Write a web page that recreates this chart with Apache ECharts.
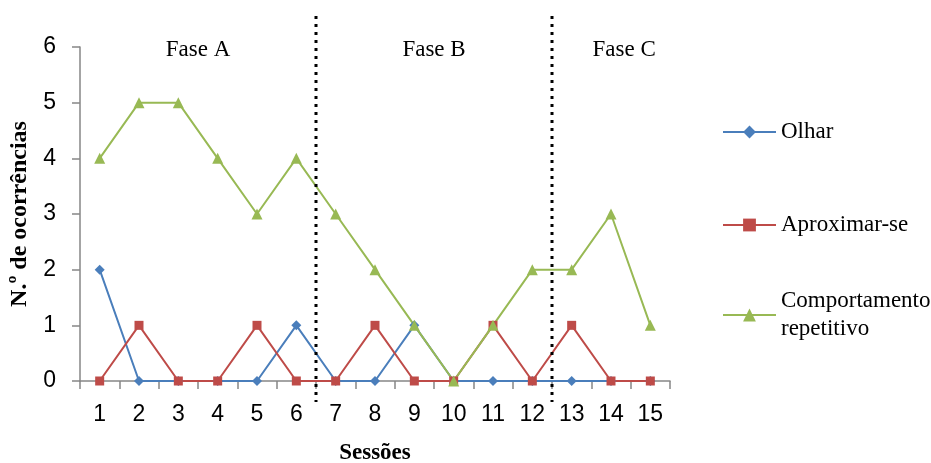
<!DOCTYPE html>
<html><head><meta charset="utf-8">
<script src="https://cdn.jsdelivr.net/npm/echarts@6/dist/echarts.min.js"></script>
<style>html,body{margin:0;padding:0;background:#fff}#c{width:931px;height:463px}</style>
</head><body><div id="c"></div>
<script>
const categories = ['1','2','3','4','5','6','7','8','9','10','11','12','13','14','15'];
const olhar = [2,0,0,0,0,1,0,0,1,0,0,0,0,0,0];
const aproximar = [0,1,0,0,1,0,0,1,0,0,1,0,1,0,0];
const comportamento = [4,5,5,4,3,4,3,2,1,0,1,2,2,3,1];
const seriesNames = ['Olhar','Aproximar-se','Comportamento repetitivo'];
const phaseNames = ['Fase A','Fase B','Fase C'];
const phaseStart = [0,6,12]; // first category index of each phase
const yTicks = [0,1,2,3,4,5,6];

const serif = '"Liberation Serif", "Times New Roman", serif';
const sans = '"Liberation Sans", Arial, sans-serif';
const colors = ['#4A7EBB','#BE4B48','#98B954'];

const chart = echarts.init(document.getElementById('c'), null, {renderer:'canvas'});
const legendBase = {
  orient:'vertical', left:717, itemWidth:53, itemHeight:16, itemGap:5,
  selectedMode:false,
  textStyle:{fontFamily:serif, fontSize:23, color:'#000', lineHeight:28}
};
const option = {
  animation:false,
  color:colors,
  grid:{left:80, right:261, top:47, bottom:82, containLabel:false, outerBoundsMode:'none'},
  legend:[
    Object.assign({}, legendBase, {top:113, data:[seriesNames[0]]}),
    Object.assign({}, legendBase, {top:206, data:[seriesNames[1]]}),
    Object.assign({}, legendBase, {top:268, data:[seriesNames[2]],
      formatter:n=>n.replace(' ','\n'),
      textStyle:Object.assign({}, legendBase.textStyle, {padding:[28,0,0,0]})})
  ],
  xAxis:{
    type:'category', data:categories, boundaryGap:true,
    name:'Sessões', nameLocation:'middle', nameGap:61,
    nameTextStyle:{fontFamily:serif, fontSize:23, fontWeight:'bold', color:'#000'},
    axisLine:{lineStyle:{color:'#868686', width:1.5}},
    axisTick:{show:true, length:8, alignWithLabel:false, lineStyle:{color:'#868686', width:1.5}},
    axisLabel:{fontFamily:sans, fontSize:23, color:'#000', margin:22}
  },
  yAxis:{
    type:'value', min:0, max:6, interval:1,
    name:'N.º de ocorrências', nameLocation:'middle', nameGap:48, nameRotate:90,
    nameTextStyle:{fontFamily:serif, fontSize:24, fontWeight:'bold', color:'#000'},
    axisLine:{show:true, lineStyle:{color:'#868686', width:1.5}},
    axisTick:{show:true, length:8, lineStyle:{color:'#868686', width:1.5}},
    axisLabel:{fontFamily:sans, fontSize:23, color:'#000', margin:24},
    splitLine:{show:false}
  },
  series:[
    {name:seriesNames[0], type:'line', data:olhar, symbol:'diamond', symbolSize:10,
     lineStyle:{width:2, color:colors[0]}, itemStyle:{color:colors[0]}},
    {name:seriesNames[1], type:'line', data:aproximar, symbol:'rect', symbolSize:9,
     lineStyle:{width:2, color:colors[1]}, itemStyle:{color:colors[1]}},
    {name:seriesNames[2], type:'line', data:comportamento, symbol:'triangle', symbolSize:11,
     lineStyle:{width:2, color:colors[2]}, itemStyle:{color:colors[2]}}
  ]
};
chart.setOption(option);

function px(i){ return chart.convertToPixel({xAxisIndex:0}, i); }
const yTop = chart.convertToPixel({yAxisIndex:0}, 6);
const yBot = chart.convertToPixel({yAxisIndex:0}, 0);
const step = px(1) - px(0);
const leftEdge = px(0) - step/2;
const rightEdge = px(categories.length-1) + step/2;
const graphics = [];
const bounds = [];
for (let k=1;k<phaseStart.length;k++){
  const x = (px(phaseStart[k]-1) + px(phaseStart[k]))/2;
  bounds.push(x);
  graphics.push({type:'line', shape:{x1:x, y1:yTop-31, x2:x, y2:yBot+21},
    style:{stroke:'#000', lineWidth:3, lineDash:[3,5]}, z:10});
}
const edges = [leftEdge].concat(bounds).concat([rightEdge + 2*step/3]);
phaseNames.forEach((n,k)=>{
  const cx = (edges[k] + edges[k+1])/2;
  graphics.push({type:'text', x:cx, y:yTop+3,
    style:{text:n, fontFamily:serif, fontSize:23, fill:'#000', align:'center', verticalAlign:'middle'}, z:10});
});
chart.setOption({graphic:graphics});
</script></body></html>
